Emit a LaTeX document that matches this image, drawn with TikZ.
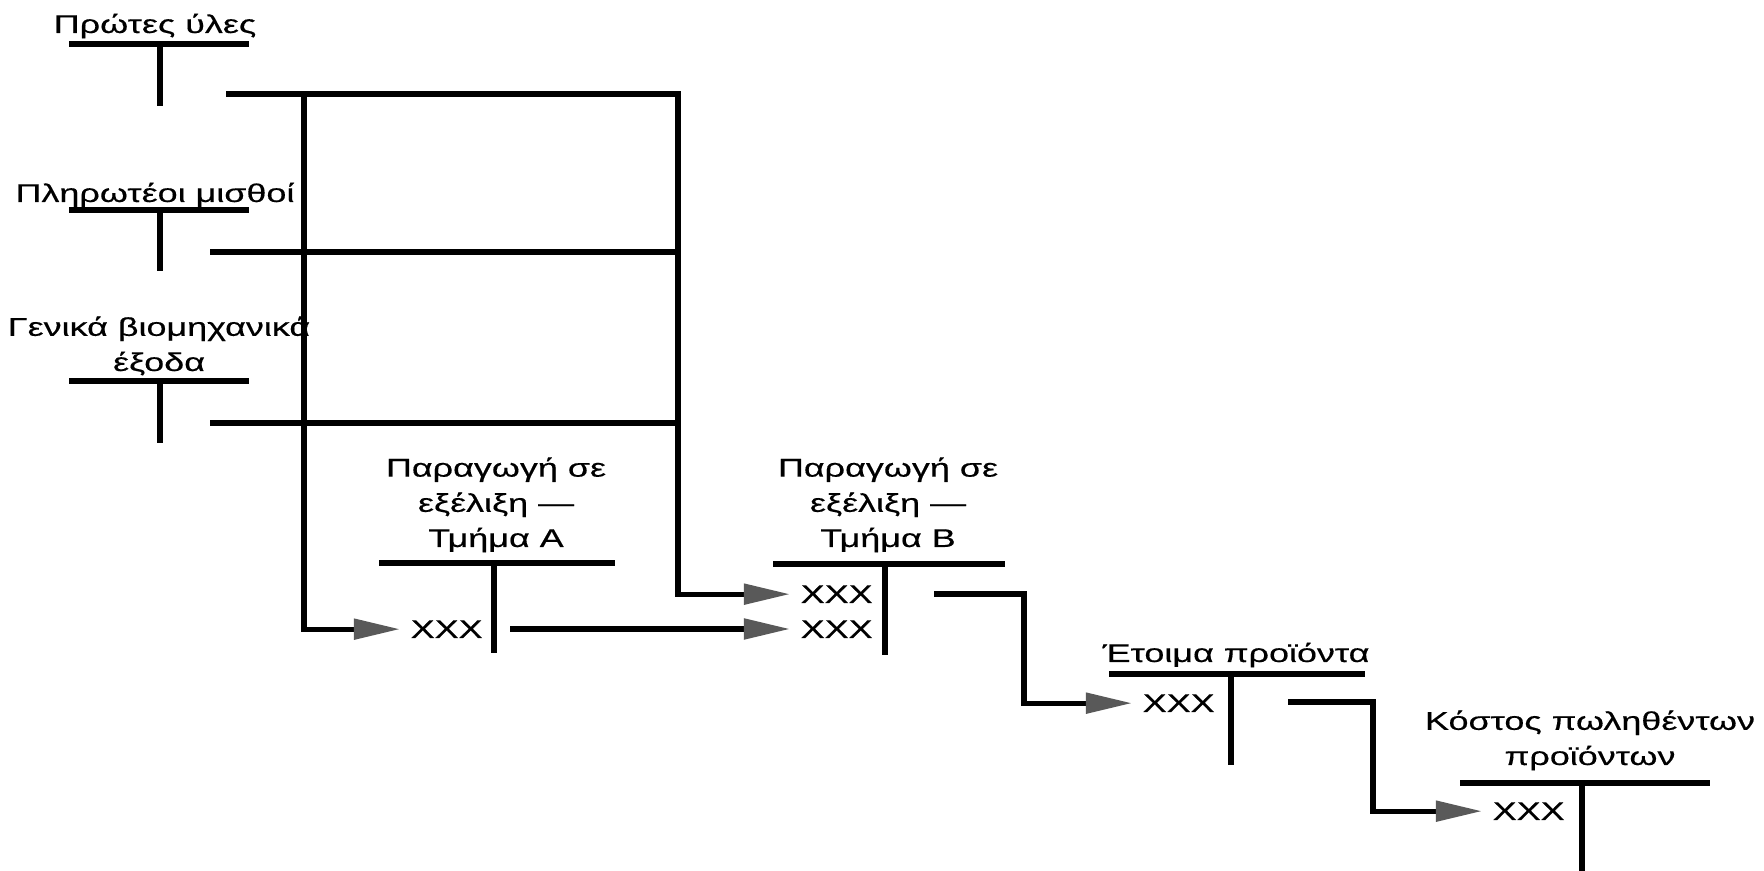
\documentclass[tikz,border=0pt]{standalone}
\usepackage{fontspec}
\usetikzlibrary{arrows.meta}
\newfontfamily\acctfont{Liberation Sans}[FakeStretch=1.4, FakeBold=0.4]
\newcommand{\acctlbl}[1]{\begin{tabular}[b]{@{}c@{}}#1\end{tabular}}

\begin{document}
\begin{tikzpicture}[x=0.01cm, y=-0.01cm,
    rule/.style={line width=1.45pt},
    flow/.style={rule, -{Triangle[length=4.6mm, width=2mm, color=black!65]}},
    acctname/.style={anchor=base, inner sep=0pt, font=\acctfont\fontsize{7.3}{10}\selectfont},
    acctentry/.style={anchor=base west, inner xsep=1mm, inner ysep=0pt, font=\acctfont\fontsize{7.3}{10}\selectfont}]
  \useasboundingbox (0,0) rectangle (1764,871);

  % ── Input accounts (left column) ──
  \node[acctname] (rawmat) at (155,33) {\acctlbl{Πρώτες ύλες}};
  \draw[rule] (69,44) -- (249,44) (160,44) -- (160,106);

  \node[acctname] (wages) at (155,202) {\acctlbl{Πληρωτέοι μισθοί}};
  \draw[rule] (69,210) -- (249,210) (160,210) -- (160,271);

  \node[acctname] (overhead) at (159,371) {\acctlbl{Γενικά βιομηχανικά\\έξοδα}};
  \draw[rule] (69,381) -- (249,381) (160,381) -- (160,443);

  % ── Work in process, department A ──
  \node[acctname] (wipA) at (496,547) {\acctlbl{Παραγωγή σε\\εξέλιξη —\\Τμήμα Α}};
  \draw[rule] (379,563) -- (615,563) (494,563) -- (494,653);
  \node[acctentry] (inA) at (400,638) {XXX};

  % ── Work in process, department B ──
  \node[acctname] (wipB) at (888,547) {\acctlbl{Παραγωγή σε\\εξέλιξη —\\Τμήμα Β}};
  \draw[rule] (773,564) -- (1005,564) (885,564) -- (885,655);
  \node[acctentry] (inB1) at (790,603) {XXX};
  \node[acctentry] (inB2) at (790,638) {XXX};

  % ── Finished goods ──
  \node[acctname] (finished) at (1236,662) {\acctlbl{Έτοιμα προϊόντα}};
  \draw[rule] (1109,674) -- (1365,674) (1231,674) -- (1231,765);
  \node[acctentry] (inF) at (1132,712) {XXX};

  % ── Cost of goods sold ──
  \node[acctname] (cogs) at (1590,765) {\acctlbl{Κόστος πωληθέντων\\προϊόντων}};
  \draw[rule] (1460,783) -- (1710,783) (1582,783) -- (1582,871);
  \node[acctentry] (inC) at (1482,820) {XXX};

  % ── Transfers out of the input accounts ──
  \coordinate (rmOut) at (226,94);
  \coordinate (hubL) at (304,94);
  \coordinate (hubR) at (678,94);
  \coordinate (wgOut) at (210,252);
  \coordinate (wgHub) at (678,252);
  \coordinate (ohOut) at (210,423);
  \coordinate (ohHub) at (678,423);
  \draw[flow] (rmOut) -- (hubR) |- (inB1.west);
  \draw[flow] (hubL) |- (inA.west);
  \draw[rule] (wgOut) -- (wgHub);
  \draw[rule] (ohOut) -- (ohHub);

  % ── Transfers down the chain ──
  \coordinate (outA) at (510,629);
  \draw[flow] (outA) -- (outA -| inB2.west);

  \coordinate (outB) at (934,594);
  \coordinate (turnB) at (1024,594);
  \draw[flow] (outB) -- (turnB) |- (inF.west);

  \coordinate (outF) at (1288,702);
  \coordinate (turnF) at (1373,702);
  \draw[flow] (outF) -- (turnF) |- (inC.west);

\end{tikzpicture}
\end{document}
